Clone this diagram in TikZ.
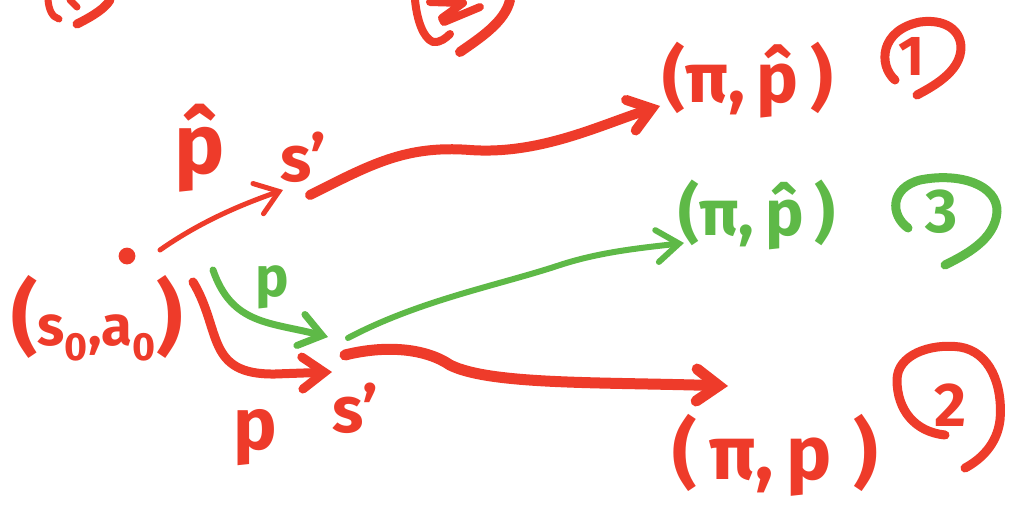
\documentclass[tikz,border=0pt]{standalone}
\usepackage{fontspec}
\setmainfont{Fira Sans}
\usetikzlibrary{arrows.meta}
\definecolor{mred}{RGB}{238,59,42}
\definecolor{mgreen}{RGB}{94,185,71}
\newcommand{\bigpar}[1]{{\fontsize{58}{58}\selectfont #1}}
\begin{document}
\begin{tikzpicture}[x=0.025cm,y=-0.025cm,line cap=round,line join=round,
  redink/.style={draw=mred,line width=#1*0.025cm},
  greenink/.style={draw=mgreen,line width=#1*0.025cm},
  barb/.style={-{Straight Barb[length=0.55cm,width=0.8cm,line cap=round]}},
  lbl/.style={inner sep=0pt,font=\fontsize{#1}{#1}\selectfont\bfseries},
  redlbl/.style={lbl=#1,text=mred},
  greenlbl/.style={lbl=#1,text=mgreen},
  dotnode/.style={circle,fill=mred,inner sep=0pt,minimum size=0.42cm}]
\useasboundingbox (0,0) rectangle (1013,507);

% cropped strokes along the top edge
\draw[redink=7] (48,0) .. controls (49,10) and (52,17) .. (59,19);
\draw[redink=7] (70,0) -- (77,7);
\draw[redink=9] (77,24) .. controls (95,15) and (105,8) .. (110,0);
\draw[redink=8] (415,0) .. controls (417,20) and (423,38) .. (433,42) .. controls (440,43) and (446,38) .. (450,34);
\draw[redink=8] (430,2) -- (463,3) -- (442,18) -- (444,22) -- (480,7);
\draw[redink=10] (460,52) .. controls (480,38) and (505,22) .. (510,0);

% nodes
\node[dotnode] (s0) at (127,256) {};
\node[redlbl=40] (sa) at (97,318) {\bigpar{(}s\textsubscript{0},a\textsubscript{0}\bigpar{)}};
\node[redlbl=60] (phat) at (200,148) {p̂};
\node[redlbl=46] (s1) at (303,157) {s'};
\node[redlbl=46] (s2) at (355,408) {s'};
\node[greenlbl=40] (pg) at (272,287) {p};
\node[redlbl=52] (pr) at (255,438) {p};
\node[redlbl=50] (pi1) at (748,80) {(π,\,p̂\,)};
\node[greenlbl=46] (pi3) at (757,215) {(π,\,p̂\,)};
\node[redlbl=54] (pi2) at (775,455) {(\,π,\,p\;)};
\node[redlbl=40] (n1) at (912,56) {1};
\node[greenlbl=44] (n3) at (942,212) {3};
\node[redlbl=44] (n2) at (950,405) {2};

% hand-drawn rings around the numbers
\draw[redink=9] (895,80) .. controls (878,65) and (880,30) .. (920,22) .. controls (950,18) and (965,35) .. (960,55) .. controls (955,75) and (930,88) .. (917,95);
\draw[greenink=9] (908,228) .. controls (890,215) and (890,188) .. (920,180) .. controls (960,172) and (998,185) .. (997,212) .. controls (995,240) and (965,255) .. (945,265);
\draw[redink=9] (945,435) .. controls (915,432) and (897,410) .. (897,380) .. controls (897,355) and (930,343) .. (960,347) .. controls (990,352) and (1003,385) .. (1000,420) .. controls (997,445) and (980,460) .. (965,468);

% arrow end points
\coordinate (a1s) at (160,250);
\coordinate (a1e) at (283,190);
\coordinate (a2s) at (310,195);
\coordinate (a2m) at (470,150);
\coordinate (a2e) at (660,106);
\coordinate (g1s) at (213,270);
\coordinate (g1e) at (328,337);
\coordinate (g2s) at (348,338);
\coordinate (g2m) at (560,265);
\coordinate (g2e) at (684,243);
\coordinate (r1s) at (193,282);
\coordinate (r1e) at (332,372);
\coordinate (r2s) at (345,355);
\coordinate (r2m) at (450,365);
\coordinate (r2e) at (728,386);

% connectors
\draw[redink=5,barb] (a1s) .. controls (200,222) and (240,205) .. (a1e);
\draw[redink=10,barb] (a2s) .. controls (370,165) and (405,145) .. (a2m) .. controls (540,155) and (600,125) .. (a2e);
\draw[greenink=7,barb] (g1s) .. controls (232,325) and (270,322) .. (g1e);
\draw[greenink=6,barb] (g2s) .. controls (420,300) and (500,285) .. (g2m) .. controls (600,252) and (640,248) .. (g2e);
\draw[redink=9,barb] (r1s) .. controls (222,330) and (205,375) .. (275,374) -- (r1e);
\draw[redink=11,barb] (r2s) .. controls (385,345) and (425,348) .. (r2m) .. controls (490,385) and (600,382) .. (r2e);
\end{tikzpicture}
\end{document}
